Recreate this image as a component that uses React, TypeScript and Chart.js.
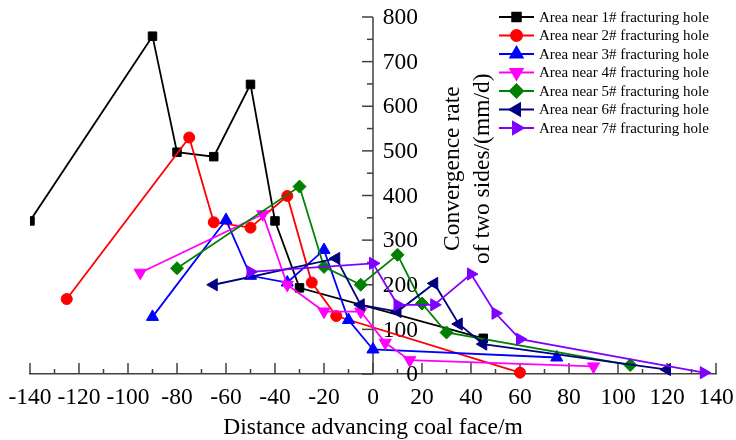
import React, { useEffect, useRef } from 'react';
import { Chart, registerables } from 'chart.js';
import { drawPoint } from 'chart.js/helpers';

Chart.register(...registerables);

const X_MIN = -140;
const X_MAX = 140;
const X_STEP = 20;
const Y_MIN = 0;
const Y_MAX = 800;
const Y_STEP = 100;

const xAxisTitle = 'Distance advancing coal face/m';
const yAxisTitleLines = ['Convergence rate', 'of two sides/(mm/d)'];

const seriesNames = [
  'Area near 1# fracturing hole',
  'Area near 2# fracturing hole',
  'Area near 3# fracturing hole',
  'Area near 4# fracturing hole',
  'Area near 5# fracturing hole',
  'Area near 6# fracturing hole',
  'Area near 7# fracturing hole',
];

const hole1X = [-140, -90, -80, -65, -50, -40, -30, 45];
const hole1Y = [343, 757, 497, 487, 649, 343, 193, 80];
const hole2X = [-125, -75, -65, -50, -35, -25, -15, 60];
const hole2Y = [168, 530, 340, 328, 399, 205, 130, 3];
const hole3X = [-90, -60, -50, -35, -20, -10, 0, 75];
const hole3Y = [128, 345, 220, 205, 278, 121, 55, 37];
const hole4X = [-95, -45, -35, -20, -5, 5, 15, 90];
const hole4Y = [227, 358, 200, 140, 140, 70, 31, 17];
const hole5X = [-80, -30, -20, -5, 10, 20, 30, 105];
const hole5Y = [237, 420, 240, 200, 267, 158, 93, 20];
const hole6X = [-65, -15, -5, 10, 25, 35, 45, 120];
const hole6Y = [200, 259, 155, 140, 203, 112, 67, 10];
const hole7X = [-50, 0, 10, 25, 40, 50, 60, 135];
const hole7Y = [229, 248, 155, 155, 224, 136, 78, 3];

const seriesX = [hole1X, hole2X, hole3X, hole4X, hole5X, hole6X, hole7X];
const seriesY = [hole1Y, hole2Y, hole3Y, hole4Y, hole5Y, hole6Y, hole7Y];

const colors = ['#000000', '#FF0000', '#0000FF', '#FF00FF', '#008000', '#000080', '#8000FF'];
const pointStyles = ['rect', 'circle', 'triangle', 'triangle', 'rectRot', 'triangle', 'triangle'];
const rotations = [0, 0, 0, 180, 0, 270, 90];
const radii = [6, 5.5, 7, 7, 6.5, 7, 7];

const FONT = "'Liberation Serif', 'Times New Roman', serif";
const FONT_SIZE = 23.5;
const AXIS_COLOR = '#404040';

const axesPlugin = {
  id: 'customAxes',
  beforeDatasetsDraw(chart: any) {
    const { ctx } = chart;
    const xs = chart.scales.x;
    const ys = chart.scales.y;
    const x0 = xs.getPixelForValue(0);
    const yBottom = ys.getPixelForValue(Y_MIN);
    const yTop = ys.getPixelForValue(Y_MAX);
    ctx.save();
    ctx.strokeStyle = AXIS_COLOR;
    ctx.lineWidth = 1.5;
    // x ticks (inward)
    for (let v = X_MIN; v <= X_MAX; v += X_STEP / 2) {
      const px = xs.getPixelForValue(v);
      const major = (v - X_MIN) % X_STEP === 0;
      ctx.beginPath();
      ctx.moveTo(px, yBottom);
      ctx.lineTo(px, yBottom - (major ? 11 : 5));
      ctx.stroke();
    }
    // y axis line
    ctx.beginPath();
    ctx.moveTo(x0, yBottom);
    ctx.lineTo(x0, yTop);
    ctx.stroke();
    for (let v = Y_MIN; v <= Y_MAX; v += Y_STEP / 2) {
      const py = ys.getPixelForValue(v);
      const major = v % Y_STEP === 0;
      ctx.beginPath();
      ctx.moveTo(x0, py);
      ctx.lineTo(x0 - (major ? 11 : 6), py);
      ctx.stroke();
    }
    // y labels
    ctx.fillStyle = '#000';
    ctx.font = `${FONT_SIZE}px ${FONT}`;
    ctx.textAlign = 'right';
    ctx.textBaseline = 'middle';
    for (let v = Y_MIN; v <= Y_MAX; v += Y_STEP) {
      const py = ys.getPixelForValue(v);
      ctx.fillText(String(v), x0 + 45, py + 1);
    }
    // y title (rotated, two lines)
    const yMid = ys.getPixelForValue(460);
    ctx.textAlign = 'center';
    ctx.textBaseline = 'alphabetic';
    yAxisTitleLines.forEach((line, i) => {
      ctx.save();
      ctx.translate(x0 + 86 + i * 30, yMid);
      ctx.rotate(-Math.PI / 2);
      ctx.fillText(line, 0, 0);
      ctx.restore();
    });
    ctx.restore();
  },
  afterDraw(chart: any) {
    const { ctx } = chart;
    ctx.save();
    const lineX0 = 499;
    const lineX1 = 534;
    const textX = 539;
    const rowY0 = 17;
    const rowStep = 18.5;
    ctx.font = `15px ${FONT}`;
    ctx.textAlign = 'left';
    ctx.textBaseline = 'middle';
    seriesNames.forEach((name, i) => {
      const y = rowY0 + i * rowStep;
      ctx.strokeStyle = colors[i];
      ctx.fillStyle = colors[i];
      ctx.lineWidth = 2;
      ctx.beginPath();
      ctx.moveTo(lineX0, y);
      ctx.lineTo(lineX1, y);
      ctx.stroke();
      drawPoint(ctx, { pointStyle: pointStyles[i], rotation: rotations[i], radius: radii[i], borderWidth: 1 } as any, (lineX0 + lineX1) / 2, y);
      ctx.fillStyle = '#000';
      ctx.fillText(name, textX, y + 1);
    });
    ctx.restore();
  },
};

export default function App() {
  const canvasRef = useRef<HTMLCanvasElement | null>(null);

  useEffect(() => {
    if (!canvasRef.current) return;
    const datasets = seriesNames.map((name, i) => ({
      label: name,
      data: seriesX[i].map((x, j) => ({ x, y: seriesY[i][j] })),
      borderColor: colors[i],
      backgroundColor: colors[i],
      borderWidth: 1.8,
      pointStyle: pointStyles[i],
      pointRotation: rotations[i],
      pointRadius: radii[i],
      pointBorderWidth: 1,
      pointBackgroundColor: colors[i],
      pointBorderColor: colors[i],
      showLine: true,
      tension: 0,
      order: seriesNames.length - i,
      clip: { left: 0, right: false, top: false, bottom: false },
    }));
    const chart = new Chart(canvasRef.current, {
      type: 'scatter',
      data: { datasets },
      options: {
        responsive: false,
        animation: false,
        devicePixelRatio: 1,
        layout: { padding: { left: 30, right: 20, top: 17, bottom: 0 } },
        plugins: { legend: { display: false }, tooltip: { enabled: false } },
        scales: {
          x: {
            type: 'linear',
            min: X_MIN,
            max: X_MAX,
            grid: { display: false, drawTicks: false },
            border: { display: true, color: AXIS_COLOR, width: 1.5 },
            afterFit(scale: any) {
              scale.paddingLeft = 0;
              scale.paddingRight = 0;
              scale.height = 66;
            },
            ticks: {
              stepSize: X_STEP,
              autoSkip: false,
              maxRotation: 0,
              padding: 12,
              color: '#000',
              font: { family: FONT, size: FONT_SIZE, lineHeight: 1.0 },
            },
            title: {
              display: true,
              text: xAxisTitle,
              color: '#000',
              font: { family: FONT, size: FONT_SIZE, lineHeight: 1.0 },
              padding: { top: 0, bottom: 0 },
            },
          },
          y: {
            type: 'linear',
            min: Y_MIN,
            max: Y_MAX,
            display: false,
          },
        },
      },
      plugins: [axesPlugin],
    });
    return () => chart.destroy();
  }, []);

  return (
    <div style={{ position: 'fixed', left: 0, top: 0, width: 736, height: 440, background: '#fff' }}>
      <canvas ref={canvasRef} width={736} height={440} style={{ width: 736, height: 440 }} />
    </div>
  );
}
